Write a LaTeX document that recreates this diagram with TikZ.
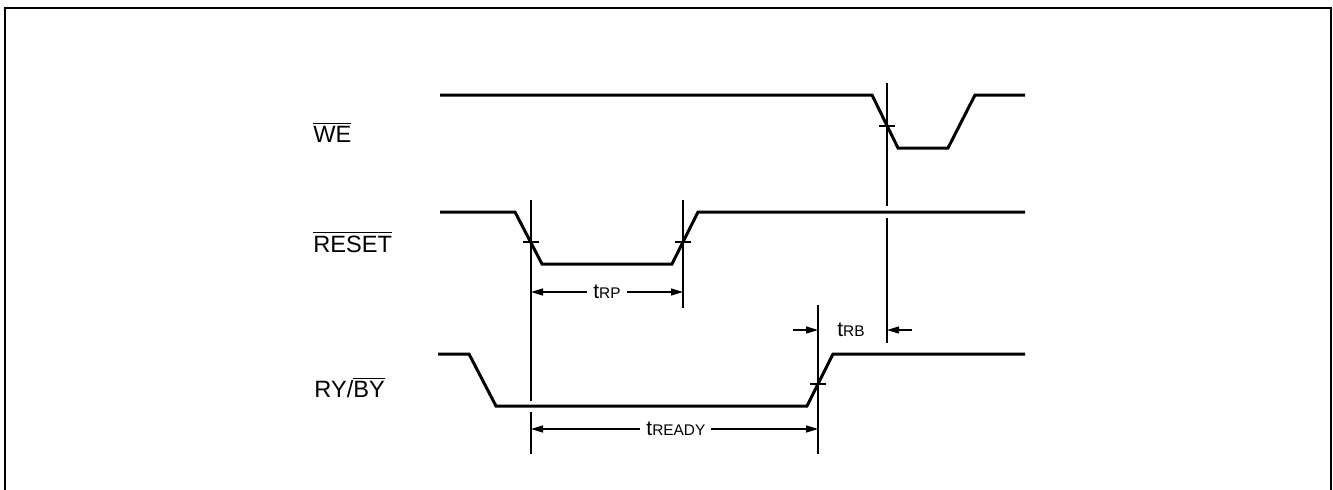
\documentclass[tikz,border=0pt]{standalone}
\usepackage{fontspec}
\setmainfont{Liberation Sans}
\usetikzlibrary{arrows.meta}

\newcommand{\barsig}[1]{$\overline{\mbox{#1}}$}
\newcommand{\tname}[1]{{\fontsize{10.5}{12}\selectfont t}{\fontsize{7.7}{9}\selectfont #1}}

\begin{document}
\begin{tikzpicture}[x=0.5pt,y=-0.5pt,
    wave/.style={line width=1.5pt, line join=miter},
    guide/.style={line width=0.6pt},
    dim/.style={line width=0.6pt, -{Triangle[length=6pt,width=3.5pt]}},
    dimboth/.style={line width=0.6pt, {Triangle[length=6pt,width=3.5pt]}-{Triangle[length=6pt,width=3.5pt]}},
    signame/.style={anchor=base west, inner sep=0pt, font=\fontsize{11.8}{14}\selectfont},
    tlabel/.style={fill=white, inner sep=3pt}]
    \useasboundingbox (0,0) rectangle (1333,489);

    % frame
    \draw[line width=1pt] (5,490) -- (5,8) -- (1331,8) -- (1331,490);

    % signal names
    \node[signame] (we) at (313,142) {\barsig{WE}};
    \node[signame] (reset) at (313,252) {\barsig{RESET}};
    \node[signame] (ryby) at (314,397) {RY/\barsig{BY}};

    % waveforms
    \draw[wave] (440,95) -- (872,95) -- (898,148) -- (948,148) -- (975,95) -- (1025,95);
    \draw[wave] (440,212) -- (515,212) -- (542,264) -- (672,264) -- (698,212) -- (1025,212);
    \draw[wave] (438,354) -- (469,354) -- (496,406) -- (807,406) -- (833,354) -- (1025,354);

    % reference lines
    \coordinate (v1t) at (531,200);
    \coordinate (v1a) at (531,401);
    \coordinate (v1b) at (531,412);
    \coordinate (v1e) at (531,454);
    \coordinate (v2t) at (683,200);
    \coordinate (v2e) at (683,308);
    \coordinate (v3t) at (887,83);
    \coordinate (v3a) at (887,206);
    \coordinate (v3b) at (887,218);
    \coordinate (v3e) at (887,343);
    \coordinate (v4t) at (818,305);
    \coordinate (v4e) at (818,454);
    \draw[guide] (v1t) to (v1a);
    \draw[guide] (v1b) to (v1e);
    \draw[guide] (v2t) to (v2e);
    \draw[guide] (v3t) to (v3a);
    \draw[guide] (v3b) to (v3e);
    \draw[guide] (v4t) to (v4e);

    % crossing ticks
    \foreach \tx/\ty in {531/242, 683/242, 887/126, 818/384}
        \draw[guide] (\tx-8,\ty) -- (\tx+8,\ty);

    % timing arrows
    \coordinate (rp1) at (531,292);
    \coordinate (rp2) at (683,292);
    \draw[dimboth] (rp1) to node[tlabel] (trp) {\tname{RP}} (rp2);

    \coordinate (rd1) at (531,429);
    \coordinate (rd2) at (818,429);
    \draw[dimboth] (rd1) to node[tlabel,pos=0.505] (tready) {\tname{READY}} (rd2);

    \coordinate (rb1) at (793,330);
    \coordinate (rb2) at (818,330);
    \coordinate (rb3) at (912,330);
    \coordinate (rb4) at (887,330);
    \draw[dim] (rb1) to (rb2);
    \draw[dim] (rb3) to (rb4);
    \node[inner sep=0pt] (trb) at (851,330) {\tname{RB}};
\end{tikzpicture}
\end{document}
